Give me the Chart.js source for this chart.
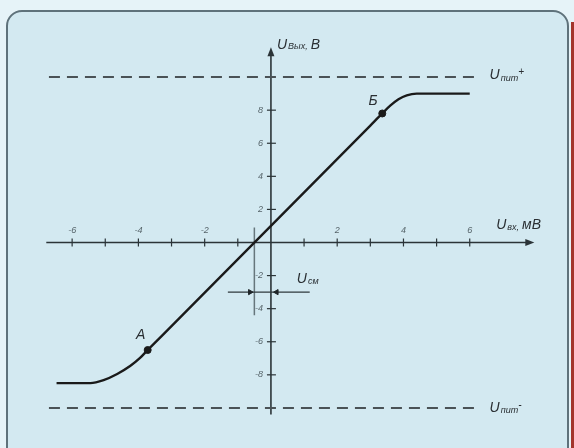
<!DOCTYPE html>
<html>
<head>
<meta charset="utf-8">
<script src="https://cdn.jsdelivr.net/npm/chart.js@4.4.1/dist/chart.umd.min.js"></script>
<style>
  html, body { margin: 0; padding: 0; background: #e6f3f8; }
  #wrap { position: relative; width: 574px; height: 448px; overflow: hidden; }
  #frame {
    position: absolute; left: 6px; top: 10px; width: 559px; height: 450px;
    background: #d3e9f1; border: 2px solid #5f727b; border-radius: 16px;
  }
  #strip { position: absolute; left: 571px; top: 22px; width: 3px; height: 426px; background: #a3352c; }
  #chart { position: absolute; left: 0; top: 0; }
</style>
</head>
<body>
<div id="wrap">
  <div id="frame"></div>
  <div id="strip"></div>
  <canvas id="chart" width="574" height="448"></canvas>
</div>
<script>
// transfer characteristic of the op-amp, U_out (V) vs U_in (mV)
var curveX = [-6.47, -5.45, -5.05, -4.64, -4.25, -3.95, -3.72, -3.3, 3.0, 3.36, 3.6, 3.85, 4.1, 4.4, 6.0];
var curveY = [-8.5, -8.5, -8.32, -7.95, -7.47, -6.98, -6.5, -5.66, 7.07, 7.8, 8.27, 8.66, 8.9, 9.0, 9.0];

// marked points A and B
var markX = [-3.72, 3.36];
var markY = [-6.5, 7.8];
var markNames = ['А', 'Б'];

// supply levels (dashed)
var supplyLevels = [10, -10];
var supplyFrom = -6.7;
var supplyTo = 6.3;

// offset voltage U_см
var offsetX = -0.5;
var offsetTop = 0.9;
var offsetBottom = -4.4;
var offsetArrowY = -3;
var offsetFrom = -1.3;
var offsetTo = 1.17;

// ticks
var xTickMarks = [-6, -5, -4, -3, -2, -1, 1, 2, 3, 4, 5, 6];
var xTickLabels = [-6, -4, -2, 2, 4, 6];
var yTickLabels = [8, 6, 4, 2, -2, -4, -6, -8];

function pts(xs, ys) {
    return xs.map(function(x, i) { return { x: x, y: ys[i] }; });
}

var ink = '#1a1a1a';
var axisColor = '#2b3438';
var tickText = '#56646a';
var fontName = '"Liberation Sans", Arial, sans-serif';

// draws "U" with sub/superscript parts
function drawParts(ctx, x, y, parts) {
    ctx.textAlign = 'left';
    ctx.textBaseline = 'middle';
    parts.forEach(function(p) {
        ctx.font = 'italic ' + p.size + 'px ' + fontName;
        ctx.fillText(p.t, x, y + (p.dy || 0));
        x += ctx.measureText(p.t).width + (p.gap || 0);
    });
}

var axesPlugin = {
    id: 'axesPlugin',
    beforeDatasetsDraw: function(chart) {
        var ctx = chart.ctx;
        var sx = chart.scales.x, sy = chart.scales.y;
        var x0 = sx.getPixelForValue(0), y0 = sy.getPixelForValue(0);
        ctx.save();
        ctx.strokeStyle = axisColor;
        ctx.fillStyle = axisColor;
        ctx.lineWidth = 1.6;
        // x axis
        var xl = sx.getPixelForValue(-6.78), xr = sx.getPixelForValue(7.95);
        ctx.beginPath(); ctx.moveTo(xl, y0); ctx.lineTo(xr - 6, y0); ctx.stroke();
        ctx.beginPath(); ctx.moveTo(xr, y0); ctx.lineTo(xr - 9, y0 - 3.5); ctx.lineTo(xr - 9, y0 + 3.5); ctx.closePath(); ctx.fill();
        // y axis
        var yt = sy.getPixelForValue(11.8), yb = sy.getPixelForValue(-10.4);
        ctx.beginPath(); ctx.moveTo(x0, yb); ctx.lineTo(x0, yt + 6); ctx.stroke();
        ctx.beginPath(); ctx.moveTo(x0, yt); ctx.lineTo(x0 - 3.5, yt + 9); ctx.lineTo(x0 + 3.5, yt + 9); ctx.closePath(); ctx.fill();
        // tick marks
        ctx.lineWidth = 1.2;
        xTickMarks.forEach(function(v) {
            var px = sx.getPixelForValue(v);
            ctx.beginPath(); ctx.moveTo(px, y0 - 4); ctx.lineTo(px, y0 + 4); ctx.stroke();
        });
        yTickLabels.forEach(function(v) {
            var py = sy.getPixelForValue(v);
            ctx.beginPath(); ctx.moveTo(x0 - 4, py); ctx.lineTo(x0 + 5, py); ctx.stroke();
        });
        // tick labels
        ctx.fillStyle = tickText;
        ctx.font = 'italic 9px ' + fontName;
        ctx.textAlign = 'center';
        ctx.textBaseline = 'middle';
        xTickLabels.forEach(function(v) {
            ctx.fillText(String(v), sx.getPixelForValue(v), y0 - 12);
        });
        ctx.textAlign = 'right';
        yTickLabels.forEach(function(v) {
            ctx.fillText(String(v), x0 - 8, sy.getPixelForValue(v));
        });
        ctx.restore();
    },
    afterDatasetsDraw: function(chart) {
        var ctx = chart.ctx;
        var sx = chart.scales.x, sy = chart.scales.y;
        var X = function(v) { return sx.getPixelForValue(v); };
        var Y = function(v) { return sy.getPixelForValue(v); };
        ctx.save();
        ctx.fillStyle = '#2a2f33';
        drawParts(ctx, X(0) + 6, Y(11.95), [
            { t: 'U', size: 14, gap: 1 }, { t: 'Вых,', size: 9, dy: 2, gap: 3 }, { t: 'В', size: 14 }
        ]);
        drawParts(ctx, X(6.6), Y(10) - 2, [
            { t: 'U', size: 14, gap: 1 }, { t: 'пит', size: 9, dy: 3 }, { t: '+', size: 10, dy: -3 }
        ]);
        drawParts(ctx, X(6.6), Y(-10), [
            { t: 'U', size: 14, gap: 1 }, { t: 'пит', size: 9, dy: 3 }, { t: '-', size: 10, dy: -3 }
        ]);
        drawParts(ctx, X(6.8), Y(1.05), [
            { t: 'U', size: 14, gap: 1 }, { t: 'вх,', size: 9, dy: 2, gap: 3 }, { t: 'мВ', size: 14 }
        ]);
        drawParts(ctx, X(0.78), Y(-2.2), [
            { t: 'U', size: 14, gap: 1 }, { t: 'см', size: 9, dy: 3 }
        ]);
        ctx.font = 'italic 14px ' + fontName;
        ctx.textAlign = 'center';
        ctx.textBaseline = 'middle';
        ctx.fillText(markNames[0], X(-3.93), Y(-5.6));
        ctx.fillText(markNames[1], X(3.08), Y(8.55));
        ctx.restore();
    }
};

var supplySets = supplyLevels.map(function(v) {
    return {
        data: [{ x: supplyFrom, y: v }, { x: supplyTo, y: v }],
        showLine: true,
        borderColor: '#4a5256',
        borderWidth: 2,
        borderDash: [11, 7],
        pointRadius: 0,
        order: 5
    };
});

var config = {
    type: 'scatter',
    data: {
        datasets: [{
            // characteristic
            data: pts(curveX, curveY),
            showLine: true,
            borderColor: ink,
            borderWidth: 2.4,
            cubicInterpolationMode: 'monotone',
            pointRadius: 0,
            order: 1
        }, {
            // points A, B
            data: pts(markX, markY),
            showLine: false,
            pointRadius: 3.5,
            backgroundColor: ink,
            borderColor: ink,
            order: 0
        }, {
            // offset vertical line
            data: [{ x: offsetX, y: offsetTop }, { x: offsetX, y: offsetBottom }],
            showLine: true,
            borderColor: '#66767c',
            borderWidth: 1.5,
            pointRadius: 0,
            order: 4
        }, {
            // offset arrow line
            data: [{ x: offsetFrom, y: offsetArrowY }, { x: offsetTo, y: offsetArrowY }],
            showLine: true,
            borderColor: '#2f383c',
            borderWidth: 1.3,
            pointRadius: 0,
            order: 3
        }, {
            // arrow heads
            data: [{ x: offsetX - 0.13, y: offsetArrowY }, { x: 0.17, y: offsetArrowY }],
            showLine: false,
            pointStyle: 'triangle',
            rotation: [90, 270],
            pointRadius: 3,
            backgroundColor: '#1f2528',
            borderColor: '#1f2528',
            order: 2
        }].concat(supplySets)
    },
    options: {
        responsive: false,
        animation: false,
        layout: { padding: { left: 39, right: 38, top: 44, bottom: 7 } },
        plugins: { legend: { display: false }, tooltip: { enabled: false } },
        scales: {
            x: { type: 'linear', min: -7, max: 8, display: false },
            y: { type: 'linear', min: -12, max: 12, display: false }
        }
    },
    plugins: [axesPlugin]
};

window.onload = function() {
    var ctx = document.getElementById('chart').getContext('2d');
    window.myChart = new Chart(ctx, config);
};
</script>
</body>
</html>
